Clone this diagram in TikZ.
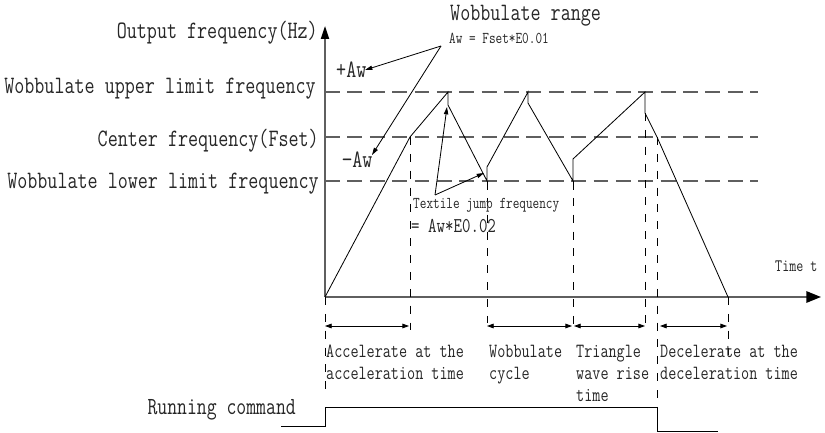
\documentclass[tikz,border=0pt]{standalone}
\usepackage{fontspec}
\usetikzlibrary{arrows.meta, positioning}
\newfontfamily\wobfont[FakeStretch=0.78]{Latin Modern Mono}
\definecolor{wobgray}{HTML}{5F5F5F}
\definecolor{wobtext}{HTML}{262626}
\tikzset{
  txtL/.style={font=\wobfont\fontsize{21.35}{24}\selectfont, text=wobtext, inner sep=0pt},
  txtM/.style={font=\wobfont\fontsize{17.2}{18.6}\selectfont, text=wobtext, inner sep=0pt, align=left},
  txtS/.style={font=\wobfont\fontsize{14.1}{16}\selectfont, text=wobtext, inner sep=0pt},
  axisln/.style={line width=1.6pt, wobgray},
  lim/.style={line width=1.4pt, wobgray, dash pattern=on 12.7pt off 6.4pt},
  vguide/.style={line width=0.7pt, black, dash pattern=on 6.8pt off 7.6pt},
  wave/.style={line width=0.7pt, black},
  arr/.style={-{Triangle[length=2.2mm, width=1.3mm]}, line width=0.7pt},
  span/.style={{Triangle[length=2mm, width=1.4mm]}-{Triangle[length=2mm, width=1.4mm]}, line width=0.7pt},
}
\begin{document}
\begin{tikzpicture}[x=0.03cm, y=-0.03cm]
  \useasboundingbox (0,0) rectangle (825,433);
  % axes
  \coordinate (o) at (325,297);
  \coordinate (ytop) at (325,26);
  \coordinate (tend) at (821,297);
  \draw[axisln, -{Triangle[length=3.9mm, width=2.4mm, color=black]}] (o) -- (ytop);
  \draw[axisln, -{Triangle[length=4.4mm, width=3.4mm, color=black]}] (o) -- (tend);
  % limit lines
  \coordinate (up0) at (325,92);   \coordinate (up1) at (758,92);
  \coordinate (ce0) at (325,137);  \coordinate (ce1) at (758,137);
  \coordinate (lo0) at (325,181);  \coordinate (lo1) at (758,181);
  \draw[lim] (up0) -- (up1);
  \draw[lim] (ce0) -- (ce1);
  \draw[lim] (lo0) -- (lo1);
  % output frequency
  \coordinate (w1) at (410,137);
  \coordinate (w2) at (448,92);   \coordinate (w3) at (448,105);
  \coordinate (w4) at (487,181);  \coordinate (w5) at (487,167);
  \coordinate (w6) at (528,92);   \coordinate (w7) at (528,103);
  \coordinate (w8) at (573,181);  \coordinate (w9) at (573,159);
  \coordinate (w10) at (645,92);  \coordinate (w11) at (645,113);
  \coordinate (w12) at (657,137); \coordinate (w13) at (728,297);
  \draw[wave] (o) -- (w1) -- (w2) -- (w3) -- (w4) -- (w5) -- (w6) -- (w7)
    -- (w8) -- (w9) -- (w10) -- (w11) -- (w12) -- (w13);
  \draw[wave] (w4) -- ++(0,9);
  \draw[wave] (w8) -- ++(0,9);
  % time marks
  \draw[vguide] (o) -- ++(0,98);
  \draw[vguide] (w1) -- ++(0,193);
  \draw[vguide] (w4) -- ++(0,142);
  \draw[vguide] (w8) -- ++(0,145);
  \draw[vguide] (w11) -- ++(0,217);
  \draw[vguide] (w12) -- ++(0,271);
  \draw[vguide] (w13) -- ++(0,58);
  \coordinate (s1) at (325,326); \coordinate (s2) at (409,326);
  \coordinate (s3) at (487,326); \coordinate (s4) at (572,326);
  \coordinate (s5) at (574,326); \coordinate (s6) at (645,326);
  \coordinate (s7) at (660,326); \coordinate (s8) at (727,326);
  \draw[span] (s1) -- (s2);
  \draw[span] (s3) -- (s4);
  \draw[span] (s5) -- (s6);
  \draw[span] (s7) -- (s8);
  % running command
  \coordinate (r0) at (281,426); \coordinate (r1) at (325,426);
  \coordinate (r2) at (325,407); \coordinate (r3) at (657,407);
  \coordinate (r4) at (657,431); \coordinate (r5) at (718,431);
  \draw[line width=0.8pt] (r0) -- (r1) -- (r2) -- (r3) -- (r4) -- (r5);
  % labels
  \node[txtL, anchor=base east] (outf) at (318,39) {Output frequency(Hz)};
  \node[txtL, anchor=base east] (upf) at (316,94) {Wobbulate upper limit frequency};
  \node[txtL, anchor=base east] (cef) at (319,146.5) {Center frequency(Fset)};
  \node[txtL, anchor=base east] (lof) at (319,189) {Wobbulate lower limit frequency};
  \node[txtL, anchor=base west] (paw) at (336,78) {+Aw};
  \node[txtL, anchor=base west] (maw) at (342,168) {−Aw};
  \node[txtL, anchor=base west] (rng) at (450,20.7) {Wobbulate range};
  \node[txtS, anchor=base west] (rngf) at (449,44) {Aw = Fset*E0.01};
  \node[txtS, anchor=base west] (jmp) at (413,208.5) {Textile jump frequency};
  \node[txtS, font=\wobfont\fontsize{18}{20}\selectfont, anchor=base west] (jmpf) at (411,233) {= Aw*E0.02};
  \node[txtS, font=\wobfont\fontsize{14.9}{17}\selectfont, anchor=base west] (time) at (775,272) {Time t};
  \node[txtL, font=\wobfont\fontsize{21}{24}\selectfont, anchor=base east] (run) at (296,414) {Running command};
  \node[txtM, anchor=north west] (acc) at (326,345) {Accelerate at the\\acceleration time};
  \node[txtM, anchor=north west] (cyc) at (489,345) {Wobbulate\\cycle};
  \node[txtM, anchor=north west] (tri) at (576,345) {Triangle\\wave rise\\time};
  \node[txtM, anchor=north west] (dec) at (660,345) {Decelerate at the\\deceleration time};
  % pointers
  \coordinate (rv) at (441,46);
  \coordinate (pt) at (365,70);
  \coordinate (mt) at (372,155);
  \draw[arr] (rv) -- (pt);
  \draw[arr] (rv) -- (mt);
  \coordinate (jv) at (435,195);
  \coordinate (jt1) at (447,107);
  \coordinate (jt2) at (484,173);
  \draw[arr] (jv) -- (jt1);
  \draw[arr] (jv) -- (jt2);
\end{tikzpicture}
\end{document}
